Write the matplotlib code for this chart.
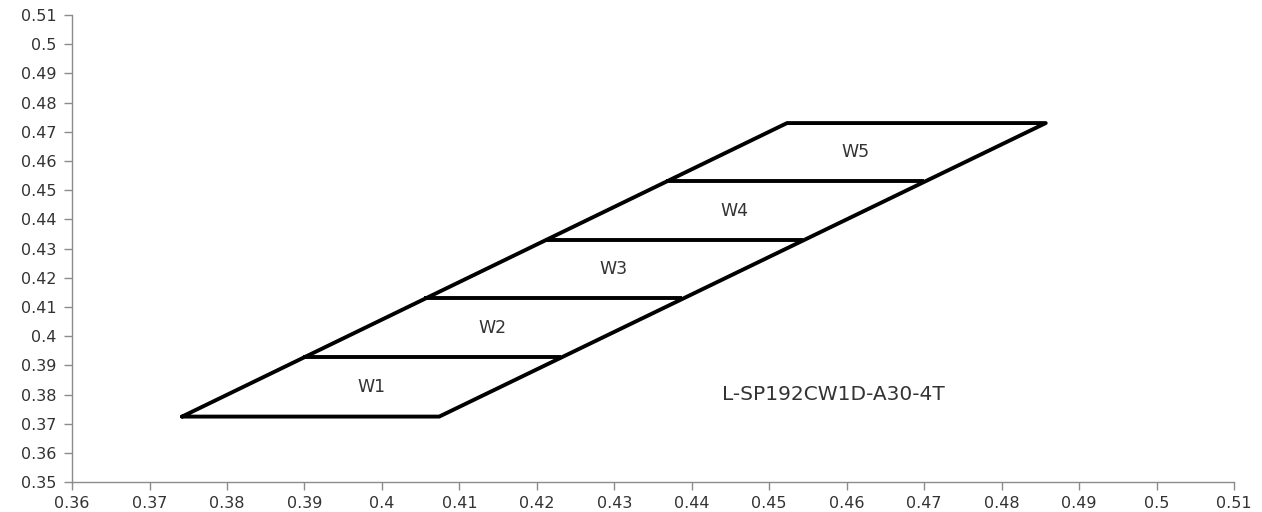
import matplotlib
matplotlib.use("Agg")
import matplotlib.pyplot as plt
import numpy as np

# band edges (y) and the left / right x of each edge
levels = [0.3725, 0.393, 0.413, 0.433, 0.453, 0.473]
left_x = [0.3742, 0.3898, 0.4054, 0.4210, 0.4367, 0.4523]
right_x = [0.4074, 0.4231, 0.4387, 0.4543, 0.4700, 0.4857]
band_names = ["W1", "W2", "W3", "W4", "W5"]
part_label = "L-SP192CW1D-A30-4T"
part_pos = (0.4583, 0.3799)

x_ticks = [0.36, 0.37, 0.38, 0.39, 0.4, 0.41, 0.42, 0.43, 0.44, 0.45,
           0.46, 0.47, 0.48, 0.49, 0.5, 0.51]
y_ticks = [0.35, 0.36, 0.37, 0.38, 0.39, 0.4, 0.41, 0.42, 0.43, 0.44,
           0.45, 0.46, 0.47, 0.48, 0.49, 0.5, 0.51]


def tick_text(v):
    s = "%.2f" % v
    return s.rstrip("0") if s.endswith("0") else s


fig = plt.figure(figsize=(12.62, 5.12), dpi=100)
ax = fig.add_axes([0.0571, 0.058, 0.9207, 0.9127])

# outline of the whole strip
ox = [left_x[0], right_x[0], right_x[-1], left_x[-1], left_x[0]]
oy = [levels[0], levels[0], levels[-1], levels[-1], levels[0]]
ax.plot(ox, oy, color="black", lw=2.8, solid_joinstyle="round",
        solid_capstyle="round")

# dividers between bands
for i in range(1, len(levels) - 1):
    ax.plot([left_x[i], right_x[i]], [levels[i], levels[i]], color="black",
            lw=2.8, solid_capstyle="butt")

for i, name in enumerate(band_names):
    cy = (levels[i] + levels[i + 1]) / 2
    cx = (left_x[i] + right_x[i] + left_x[i + 1] + right_x[i + 1]) / 4
    ax.text(cx, cy, name, ha="center", va="center", fontsize=12.5,
            color="#333333", family="DejaVu Sans")

ax.text(part_pos[0], part_pos[1], part_label, ha="center", va="center",
        fontsize=14.5, color="#333333", family="DejaVu Sans")

ax.set_xlim(0.36, 0.51)
ax.set_ylim(0.35, 0.51)
ax.set_xticks(x_ticks)
ax.set_yticks(y_ticks)
ax.set_xticklabels([tick_text(v) for v in x_ticks])
ax.set_yticklabels([tick_text(v) for v in y_ticks])

for side in ["top", "right"]:
    ax.spines[side].set_visible(False)
for side in ["left", "bottom"]:
    ax.spines[side].set_color("#8c8c8c")
    ax.spines[side].set_linewidth(1.0)
ax.tick_params(axis="both", direction="out", length=6, width=1.0,
               color="#8c8c8c", labelsize=11.5, labelcolor="#333333")
ax.tick_params(axis="y", pad=5)
ax.tick_params(axis="x", pad=4)

fig.savefig("out.png", dpi=100)
